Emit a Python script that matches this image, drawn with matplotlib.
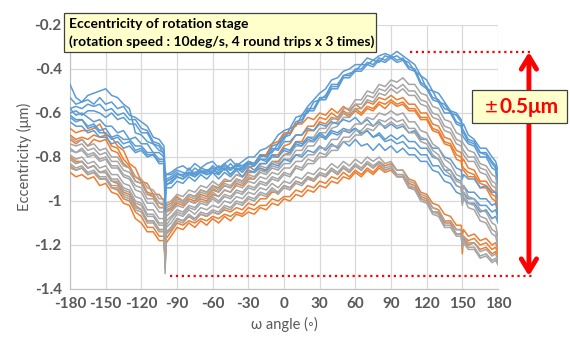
import matplotlib
matplotlib.use("Agg")
import matplotlib.pyplot as plt
from matplotlib.patches import Rectangle

plt.rcParams['font.family'] = ['Lato', 'DejaVu Sans']
plt.rcParams['axes.unicode_minus'] = False

# angle positions of the sampled points (deg)
angles = [-180, -175, -170, -165, -160, -155, -150, -145, -140, -135, -130, -125, -120, -115, -110, -105,
          -101, -100, -99,
          -95, -90, -85, -80, -75, -70, -65, -60, -55, -50, -45, -40, -35, -30, -25, -20, -15, -10, -5,
          0, 5, 10, 15, 20, 25, 30, 35, 40, 45, 50, 55, 60, 65, 70, 75, 80, 85, 90,
          95, 100, 105, 110, 115, 120, 125, 130, 135, 140, 145,
          149, 150, 151,
          155, 160, 165, 170, 175, 178, 180]

# eccentricity (um), one list per pass
blue_upper = [
    [-0.47, -0.53, -0.55, -0.52, -0.51, -0.50, -0.49, -0.52, -0.53, -0.56, -0.58, -0.69, -0.70, -0.73, -0.74, -0.77,
     -0.78, -0.92, -0.88,
     -0.87, -0.85, -0.84, -0.86, -0.83, -0.85, -0.83, -0.82, -0.85, -0.83, -0.81, -0.84, -0.82, -0.80, -0.80, -0.77, -0.76, -0.74, -0.70,
     -0.68, -0.67, -0.62, -0.61, -0.57, -0.54, -0.51, -0.49, -0.45, -0.44, -0.41, -0.40, -0.38, -0.38, -0.35, -0.36, -0.34, -0.33, -0.34,
     -0.32, -0.34, -0.36, -0.38, -0.43, -0.45, -0.50, -0.51, -0.55, -0.59, -0.60,
     -0.63, -0.66, -0.65,
     -0.70, -0.72, -0.76, -0.76, -0.80, -0.82, -0.86],
    [-0.53, -0.56, -0.55, -0.54, -0.56, -0.53, -0.56, -0.55, -0.58, -0.57, -0.61, -0.62, -0.64, -0.66, -0.71, -0.72,
     -0.75, -0.86, -0.88,
     -0.88, -0.86, -0.87, -0.88, -0.85, -0.87, -0.86, -0.87, -0.84, -0.86, -0.83, -0.86, -0.85, -0.82, -0.83, -0.80, -0.79, -0.78, -0.74,
     -0.72, -0.67, -0.66, -0.61, -0.60, -0.55, -0.54, -0.52, -0.47, -0.47, -0.43, -0.42, -0.41, -0.38, -0.38, -0.36, -0.37, -0.34, -0.35,
     -0.34, -0.36, -0.37, -0.41, -0.43, -0.49, -0.50, -0.55, -0.56, -0.60, -0.61,
     -0.64, -0.67, -0.68,
     -0.72, -0.73, -0.78, -0.78, -0.82, -0.84, -0.89],
    [-0.58, -0.57, -0.58, -0.56, -0.57, -0.56, -0.59, -0.58, -0.61, -0.60, -0.63, -0.63, -0.67, -0.68, -0.73, -0.74,
     -0.77, -0.90, -0.91,
     -0.90, -0.88, -0.88, -0.87, -0.88, -0.87, -0.87, -0.85, -0.88, -0.85, -0.86, -0.84, -0.85, -0.83, -0.83, -0.79, -0.79, -0.75, -0.74,
     -0.70, -0.69, -0.64, -0.63, -0.58, -0.58, -0.53, -0.53, -0.48, -0.48, -0.43, -0.43, -0.40, -0.40, -0.37, -0.38, -0.35, -0.36, -0.34,
     -0.36, -0.35, -0.39, -0.40, -0.46, -0.48, -0.53, -0.54, -0.58, -0.59, -0.64,
     -0.65, -0.69, -0.69,
     -0.73, -0.74, -0.78, -0.79, -0.83, -0.85, -0.92],
    [-0.60, -0.59, -0.61, -0.59, -0.59, -0.60, -0.62, -0.60, -0.63, -0.62, -0.65, -0.65, -0.69, -0.69, -0.74, -0.75,
     -0.79, -0.97, -0.93,
     -0.91, -0.89, -0.90, -0.87, -0.89, -0.86, -0.88, -0.86, -0.87, -0.85, -0.88, -0.85, -0.86, -0.83, -0.84, -0.81, -0.81, -0.77, -0.76,
     -0.71, -0.70, -0.65, -0.64, -0.59, -0.59, -0.54, -0.54, -0.49, -0.49, -0.44, -0.44, -0.41, -0.41, -0.38, -0.39, -0.36, -0.37, -0.35,
     -0.37, -0.36, -0.40, -0.41, -0.47, -0.49, -0.54, -0.55, -0.60, -0.60, -0.65,
     -0.66, -0.70, -0.71,
     -0.74, -0.75, -0.80, -0.80, -0.85, -0.86, -0.95],
]
blue_lower = [
    [-0.58, -0.61, -0.60, -0.62, -0.64, -0.63, -0.66, -0.66, -0.69, -0.68, -0.72, -0.71, -0.74, -0.74, -0.78, -0.78,
     -0.80, -0.99, -0.91,
     -0.90, -0.88, -0.88, -0.87, -0.87, -0.86, -0.87, -0.84, -0.86, -0.84, -0.85, -0.84, -0.84, -0.82, -0.83, -0.79, -0.80, -0.76, -0.77,
     -0.73, -0.73, -0.70, -0.70, -0.67, -0.68, -0.65, -0.66, -0.64, -0.65, -0.63, -0.64, -0.62, -0.65, -0.63, -0.66, -0.64, -0.67, -0.65,
     -0.67, -0.66, -0.69, -0.68, -0.72, -0.72, -0.76, -0.76, -0.80, -0.81, -0.85,
     -0.86, -0.90, -0.88,
     -0.90, -0.90, -0.94, -0.93, -0.96, -0.96, -0.99],
    [-0.62, -0.64, -0.63, -0.66, -0.65, -0.68, -0.67, -0.71, -0.70, -0.72, -0.72, -0.75, -0.75, -0.78, -0.78, -0.81,
     -0.81, -0.94, -0.92,
     -0.92, -0.89, -0.90, -0.88, -0.89, -0.87, -0.88, -0.87, -0.88, -0.85, -0.88, -0.85, -0.87, -0.84, -0.86, -0.83, -0.83, -0.80, -0.80,
     -0.77, -0.78, -0.74, -0.75, -0.72, -0.73, -0.70, -0.72, -0.69, -0.70, -0.68, -0.69, -0.67, -0.70, -0.68, -0.71, -0.69, -0.72, -0.70,
     -0.72, -0.70, -0.73, -0.73, -0.76, -0.76, -0.80, -0.81, -0.86, -0.86, -0.90,
     -0.91, -0.95, -0.93,
     -0.96, -0.96, -0.99, -0.99, -1.02, -1.01, -1.05],
    [-0.64, -0.66, -0.66, -0.69, -0.68, -0.71, -0.71, -0.74, -0.73, -0.76, -0.75, -0.78, -0.77, -0.80, -0.79, -0.83,
     -0.83, -1.05, -0.94,
     -0.94, -0.91, -0.92, -0.89, -0.91, -0.88, -0.90, -0.87, -0.90, -0.87, -0.89, -0.86, -0.89, -0.86, -0.87, -0.85, -0.86, -0.83, -0.84,
     -0.81, -0.82, -0.79, -0.80, -0.77, -0.78, -0.75, -0.77, -0.74, -0.76, -0.73, -0.75, -0.72, -0.75, -0.74, -0.77, -0.74, -0.77, -0.75,
     -0.78, -0.76, -0.79, -0.79, -0.82, -0.82, -0.86, -0.87, -0.91, -0.92, -0.96,
     -0.97, -1.01, -0.99,
     -1.01, -1.01, -1.05, -1.04, -1.08, -1.07, -1.10],
    [-0.61, -0.63, -0.63, -0.67, -0.66, -0.69, -0.69, -0.72, -0.71, -0.74, -0.73, -0.77, -0.76, -0.79, -0.79, -0.82,
     -0.82, -0.96, -0.90,
     -0.89, -0.87, -0.89, -0.85, -0.88, -0.85, -0.86, -0.85, -0.86, -0.83, -0.86, -0.83, -0.84, -0.83, -0.84, -0.81, -0.82, -0.79, -0.80,
     -0.76, -0.77, -0.73, -0.74, -0.71, -0.72, -0.69, -0.71, -0.68, -0.69, -0.67, -0.68, -0.67, -0.69, -0.68, -0.71, -0.70, -0.73, -0.72,
     -0.74, -0.73, -0.76, -0.76, -0.79, -0.79, -0.84, -0.84, -0.88, -0.89, -0.93,
     -0.94, -0.98, -0.96,
     -0.99, -0.99, -1.02, -1.02, -1.05, -1.04, -1.08],
]
orange_upper = [
    [-0.67, -0.69, -0.68, -0.68, -0.67, -0.65, -0.70, -0.71, -0.75, -0.77, -0.83, -0.85, -0.91, -0.92, -0.97, -0.97,
     -1.00, -1.26, -1.02,
     -1.01, -0.98, -1.00, -0.97, -0.98, -0.95, -0.96, -0.93, -0.94, -0.91, -0.91, -0.88, -0.89, -0.85, -0.84, -0.79, -0.79, -0.74, -0.73,
     -0.69, -0.69, -0.65, -0.65, -0.62, -0.63, -0.60, -0.61, -0.58, -0.60, -0.57, -0.59, -0.56, -0.58, -0.55, -0.56, -0.53, -0.54, -0.52,
     -0.54, -0.53, -0.56, -0.56, -0.60, -0.60, -0.65, -0.66, -0.71, -0.72, -0.77,
     -0.78, -0.82, -0.81,
     -0.85, -0.86, -0.91, -0.91, -0.95, -0.96, -1.02],
    [-0.70, -0.72, -0.71, -0.72, -0.70, -0.71, -0.70, -0.75, -0.76, -0.81, -0.84, -0.89, -0.91, -0.96, -0.97, -1.01,
     -1.02, -1.30, -1.04,
     -1.03, -1.00, -1.01, -0.99, -1.00, -0.97, -0.98, -0.95, -0.96, -0.93, -0.94, -0.90, -0.91, -0.87, -0.87, -0.83, -0.83, -0.79, -0.79,
     -0.75, -0.74, -0.70, -0.70, -0.66, -0.66, -0.62, -0.63, -0.60, -0.62, -0.59, -0.61, -0.58, -0.60, -0.57, -0.58, -0.55, -0.56, -0.54,
     -0.56, -0.55, -0.58, -0.58, -0.62, -0.62, -0.67, -0.68, -0.73, -0.74, -0.79,
     -0.80, -0.84, -0.85,
     -0.87, -0.88, -0.92, -0.93, -0.97, -0.98, -1.05],
    [-0.72, -0.74, -0.72, -0.75, -0.72, -0.73, -0.72, -0.77, -0.78, -0.83, -0.85, -0.91, -0.92, -0.97, -0.98, -1.03,
     -1.03, -1.21, -1.05,
     -1.04, -1.01, -1.02, -1.00, -1.01, -0.99, -1.00, -0.97, -0.98, -0.95, -0.96, -0.92, -0.93, -0.90, -0.90, -0.86, -0.86, -0.82, -0.82,
     -0.79, -0.78, -0.73, -0.73, -0.68, -0.68, -0.64, -0.65, -0.62, -0.63, -0.60, -0.62, -0.59, -0.61, -0.58, -0.59, -0.56, -0.58, -0.55,
     -0.57, -0.56, -0.59, -0.59, -0.63, -0.63, -0.68, -0.69, -0.74, -0.75, -0.81,
     -0.82, -0.86, -0.86,
     -0.89, -0.89, -0.94, -0.94, -0.99, -1.00, -1.08],
]
orange_lower = [
    [-0.80, -0.82, -0.82, -0.85, -0.84, -0.87, -0.87, -0.91, -0.92, -0.96, -0.97, -1.02, -1.04, -1.09, -1.09, -1.13,
     -1.13, -1.31, -1.15,
     -1.12, -1.08, -1.09, -1.07, -1.08, -1.06, -1.07, -1.05, -1.06, -1.04, -1.05, -1.03, -1.04, -1.01, -1.02, -0.99, -0.99, -0.96, -0.96,
     -0.93, -0.94, -0.91, -0.92, -0.89, -0.91, -0.88, -0.89, -0.86, -0.88, -0.85, -0.87, -0.84, -0.86, -0.83, -0.85, -0.82, -0.84, -0.83,
     -0.86, -0.86, -0.90, -0.91, -0.96, -0.97, -1.01, -1.02, -1.06, -1.07, -1.11,
     -1.11, -1.16, -1.13,
     -1.16, -1.15, -1.18, -1.17, -1.20, -1.19, -1.22],
    [-0.84, -0.86, -0.85, -0.88, -0.87, -0.90, -0.90, -0.94, -0.95, -0.99, -1.00, -1.05, -1.07, -1.12, -1.12, -1.16,
     -1.16, -1.28, -1.17,
     -1.14, -1.10, -1.11, -1.09, -1.10, -1.08, -1.09, -1.07, -1.08, -1.06, -1.07, -1.05, -1.06, -1.03, -1.04, -1.02, -1.02, -0.99, -1.00,
     -0.98, -0.98, -0.95, -0.96, -0.93, -0.94, -0.91, -0.92, -0.89, -0.90, -0.87, -0.89, -0.86, -0.88, -0.85, -0.87, -0.84, -0.86, -0.85,
     -0.88, -0.88, -0.92, -0.93, -0.98, -0.99, -1.03, -1.04, -1.09, -1.09, -1.13,
     -1.13, -1.24, -1.16,
     -1.18, -1.17, -1.20, -1.19, -1.22, -1.21, -1.24],
    [-0.87, -0.89, -0.88, -0.90, -0.89, -0.93, -0.92, -0.96, -0.97, -1.01, -1.02, -1.08, -1.10, -1.14, -1.14, -1.18,
     -1.18, -1.25, -1.19,
     -1.16, -1.12, -1.13, -1.10, -1.12, -1.09, -1.11, -1.08, -1.10, -1.07, -1.09, -1.06, -1.07, -1.05, -1.06, -1.03, -1.04, -1.01, -1.02,
     -0.99, -1.00, -0.97, -0.98, -0.95, -0.96, -0.93, -0.94, -0.91, -0.92, -0.89, -0.90, -0.87, -0.89, -0.86, -0.88, -0.85, -0.87, -0.86,
     -0.89, -0.89, -0.94, -0.94, -0.99, -1.00, -1.05, -1.05, -1.10, -1.10, -1.15,
     -1.15, -1.19, -1.17,
     -1.20, -1.19, -1.22, -1.21, -1.24, -1.23, -1.26],
]
gray_upper = [
    [-0.71, -0.73, -0.72, -0.75, -0.74, -0.77, -0.76, -0.80, -0.80, -0.84, -0.85, -0.89, -0.90, -0.94, -0.95, -0.99,
     -0.99, -1.18, -1.01,
     -1.00, -0.97, -0.98, -0.95, -0.96, -0.93, -0.94, -0.91, -0.93, -0.90, -0.91, -0.88, -0.89, -0.86, -0.87, -0.84, -0.85, -0.82, -0.83,
     -0.79, -0.79, -0.75, -0.75, -0.71, -0.71, -0.67, -0.67, -0.63, -0.62, -0.58, -0.58, -0.54, -0.54, -0.50, -0.51, -0.47, -0.48, -0.45,
     -0.46, -0.44, -0.47, -0.47, -0.51, -0.52, -0.57, -0.58, -0.63, -0.64, -0.69,
     -0.70, -0.73, -0.74,
     -0.77, -0.78, -0.83, -0.84, -0.88, -0.89, -0.95],
    [-0.74, -0.75, -0.74, -0.77, -0.76, -0.79, -0.78, -0.82, -0.82, -0.86, -0.87, -0.91, -0.92, -0.97, -0.97, -1.01,
     -1.01, -1.22, -1.03,
     -1.02, -0.99, -1.00, -0.97, -0.98, -0.95, -0.96, -0.93, -0.95, -0.92, -0.93, -0.90, -0.91, -0.88, -0.89, -0.86, -0.87, -0.84, -0.85,
     -0.81, -0.81, -0.77, -0.77, -0.73, -0.73, -0.69, -0.69, -0.65, -0.64, -0.60, -0.60, -0.56, -0.56, -0.52, -0.53, -0.49, -0.50, -0.47,
     -0.49, -0.47, -0.50, -0.50, -0.54, -0.55, -0.60, -0.61, -0.66, -0.67, -0.72,
     -0.73, -0.76, -0.77,
     -0.80, -0.80, -0.85, -0.86, -0.91, -0.92, -0.98],
    [-0.76, -0.78, -0.76, -0.79, -0.78, -0.81, -0.80, -0.84, -0.84, -0.88, -0.89, -0.93, -0.94, -0.99, -0.99, -1.03,
     -1.03, -1.26, -1.05,
     -1.03, -1.00, -1.01, -0.98, -0.99, -0.96, -0.97, -0.94, -0.96, -0.93, -0.94, -0.91, -0.92, -0.89, -0.90, -0.87, -0.88, -0.85, -0.86,
     -0.83, -0.83, -0.79, -0.79, -0.75, -0.75, -0.71, -0.71, -0.67, -0.66, -0.62, -0.62, -0.58, -0.58, -0.54, -0.55, -0.51, -0.52, -0.49,
     -0.51, -0.49, -0.52, -0.52, -0.56, -0.57, -0.62, -0.63, -0.68, -0.69, -0.74,
     -0.75, -0.78, -0.79,
     -0.82, -0.82, -0.87, -0.88, -0.93, -0.94, -1.01],
]
gray_middle = [
    [-0.77, -0.78, -0.77, -0.80, -0.79, -0.82, -0.81, -0.85, -0.85, -0.89, -0.90, -0.95, -0.96, -1.01, -1.01, -1.05,
     -1.05, -1.33, -1.07,
     -1.05, -1.02, -1.03, -1.00, -1.01, -0.98, -0.99, -0.96, -0.98, -0.95, -0.96, -0.93, -0.94, -0.91, -0.92, -0.89, -0.90, -0.87, -0.88,
     -0.85, -0.85, -0.82, -0.82, -0.79, -0.79, -0.76, -0.76, -0.72, -0.72, -0.68, -0.68, -0.65, -0.65, -0.62, -0.63, -0.60, -0.61, -0.59,
     -0.61, -0.60, -0.64, -0.64, -0.68, -0.69, -0.74, -0.76, -0.81, -0.83, -0.88,
     -0.89, -0.96, -0.93,
     -0.98, -0.99, -1.04, -1.05, -1.10, -1.11, -1.16],
    [-0.79, -0.81, -0.80, -0.83, -0.82, -0.85, -0.84, -0.88, -0.88, -0.92, -0.93, -0.98, -0.99, -1.04, -1.04, -1.08,
     -1.08, -1.30, -1.09,
     -1.07, -1.04, -1.05, -1.02, -1.03, -1.00, -1.01, -0.98, -1.00, -0.97, -0.98, -0.95, -0.96, -0.93, -0.94, -0.91, -0.92, -0.89, -0.90,
     -0.87, -0.88, -0.84, -0.85, -0.81, -0.82, -0.78, -0.79, -0.75, -0.75, -0.71, -0.71, -0.68, -0.68, -0.65, -0.66, -0.63, -0.64, -0.62,
     -0.64, -0.63, -0.67, -0.67, -0.71, -0.72, -0.77, -0.79, -0.84, -0.86, -0.91,
     -0.92, -1.00, -0.96,
     -1.01, -1.02, -1.07, -1.08, -1.13, -1.14, -1.19],
    [-0.81, -0.83, -0.82, -0.85, -0.84, -0.87, -0.86, -0.90, -0.90, -0.94, -0.95, -1.00, -1.01, -1.06, -1.06, -1.10,
     -1.10, -1.27, -1.11,
     -1.08, -1.05, -1.06, -1.03, -1.04, -1.01, -1.02, -0.99, -1.01, -0.98, -0.99, -0.96, -0.97, -0.94, -0.95, -0.92, -0.93, -0.90, -0.91,
     -0.88, -0.89, -0.85, -0.86, -0.83, -0.83, -0.80, -0.80, -0.77, -0.77, -0.73, -0.73, -0.70, -0.70, -0.67, -0.68, -0.65, -0.66, -0.64,
     -0.66, -0.65, -0.69, -0.69, -0.73, -0.74, -0.79, -0.81, -0.86, -0.88, -0.93,
     -0.94, -1.02, -0.98,
     -1.03, -1.04, -1.09, -1.10, -1.15, -1.16, -1.21],
]
gray_lower = [
    [-0.81, -0.83, -0.82, -0.85, -0.84, -0.87, -0.87, -0.91, -0.91, -0.95, -0.96, -1.01, -1.02, -1.07, -1.07, -1.11,
     -1.11, -1.24, -1.12,
     -1.10, -1.06, -1.07, -1.04, -1.06, -1.03, -1.04, -1.02, -1.03, -1.00, -1.01, -0.98, -0.99, -0.96, -0.97, -0.94, -0.95, -0.92, -0.94,
     -0.91, -0.92, -0.89, -0.90, -0.87, -0.88, -0.85, -0.86, -0.83, -0.85, -0.82, -0.84, -0.81, -0.83, -0.80, -0.82, -0.80, -0.83, -0.82,
     -0.86, -0.86, -0.91, -0.92, -0.97, -0.98, -1.03, -1.04, -1.09, -1.09, -1.13,
     -1.13, -1.18, -1.16,
     -1.19, -1.19, -1.23, -1.22, -1.25, -1.24, -1.27],
    [-0.83, -0.85, -0.84, -0.87, -0.86, -0.89, -0.89, -0.93, -0.93, -0.97, -0.98, -1.03, -1.04, -1.09, -1.09, -1.13,
     -1.13, -1.28, -1.14,
     -1.12, -1.08, -1.09, -1.06, -1.08, -1.05, -1.06, -1.04, -1.05, -1.02, -1.03, -1.00, -1.01, -0.98, -0.99, -0.96, -0.97, -0.94, -0.96,
     -0.93, -0.94, -0.91, -0.92, -0.89, -0.90, -0.87, -0.88, -0.85, -0.87, -0.84, -0.86, -0.83, -0.85, -0.82, -0.84, -0.82, -0.85, -0.84,
     -0.88, -0.88, -0.93, -0.94, -0.99, -1.00, -1.05, -1.06, -1.11, -1.11, -1.15,
     -1.15, -1.20, -1.18,
     -1.21, -1.21, -1.25, -1.24, -1.27, -1.26, -1.28],
    [-0.85, -0.86, -0.85, -0.88, -0.87, -0.90, -0.90, -0.94, -0.94, -0.98, -0.99, -1.04, -1.05, -1.10, -1.10, -1.14,
     -1.14, -1.22, -1.15,
     -1.13, -1.09, -1.10, -1.07, -1.09, -1.06, -1.07, -1.05, -1.06, -1.03, -1.04, -1.01, -1.02, -0.99, -1.00, -0.97, -0.98, -0.95, -0.97,
     -0.94, -0.95, -0.92, -0.93, -0.90, -0.91, -0.88, -0.89, -0.86, -0.88, -0.85, -0.87, -0.84, -0.86, -0.83, -0.85, -0.83, -0.86, -0.85,
     -0.89, -0.89, -0.94, -0.95, -1.00, -1.01, -1.06, -1.07, -1.12, -1.12, -1.16,
     -1.16, -1.21, -1.19,
     -1.22, -1.22, -1.26, -1.25, -1.28, -1.27, -1.29],
]

BLUE = '#5B9BD5'
ORANGE = '#ED7D31'
GRAY = '#A5A5A5'

fig = plt.figure(figsize=(5.7, 3.41), dpi=100)
ax = fig.add_axes([70 / 570, 1 - 289 / 341, 428 / 570, 264 / 341])

# interleave the three colours so none sits completely on top
groups = [(blue_upper, BLUE), (orange_upper, ORANGE), (gray_upper, GRAY),
          (blue_lower, BLUE), (orange_lower, ORANGE), (gray_middle, GRAY),
          (gray_lower, GRAY)]
for runs, color in groups:
    for vals in runs:
        ax.plot(angles, vals, color=color, lw=1.1, zorder=3)

ax.set_xlim(-180, 180)
ax.set_ylim(-1.4, -0.2)
ax.set_xticks(range(-180, 181, 30))
ax.set_yticks([-1.4, -1.2, -1.0, -0.8, -0.6, -0.4, -0.2])
ax.set_yticklabels(['-1.4', '-1.2', '-1', '-0.8', '-0.6', '-0.4', '-0.2'])
ax.grid(True, color='#D9D9D9', lw=0.9)
ax.set_axisbelow(True)
for side in ['top', 'right']:
    ax.spines[side].set_visible(False)
for side in ['left', 'bottom']:
    ax.spines[side].set_color('#BFBFBF')
ax.tick_params(length=0, labelsize=11, labelcolor='#595959', pad=6)
for lab in ax.get_xticklabels() + ax.get_yticklabels():
    lab.set_fontweight('bold')

ax.set_xlabel('ω angle (◦)', fontsize=10.5, color='#595959', labelpad=4)
ax.set_ylabel('Eccentricity (μm)', fontsize=10.5, color='#595959', labelpad=2)

# red range markers
ax.plot([106, 209], [-0.323, -0.323], color='red', ls=':', lw=1.6, clip_on=False, zorder=4)
ax.plot([-96, 209], [-1.341, -1.341], color='red', ls=':', lw=1.6, clip_on=False, zorder=4)
ax.annotate('', xy=(206, -0.323), xytext=(206, -1.341),
            arrowprops=dict(arrowstyle='<->,head_length=0.9,head_width=0.55',
                            color='red', lw=3.5, shrinkA=0, shrinkB=0),
            annotation_clip=False, zorder=5)

# text boxes
fig.patches.append(Rectangle((64 / 570, 1 - 52 / 341), 312 / 570, 39 / 341,
                             transform=fig.transFigure, facecolor='#FFFFCC',
                             edgecolor='#404040', lw=0.9, zorder=6))
fig.text(69 / 570, 1 - 24 / 341, 'Eccentricity of rotation stage', fontsize=10,
         fontweight='bold', va='center', ha='left', zorder=7)
fig.text(69 / 570, 1 - 42 / 341, '(rotation speed : 10deg/s, 4 round trips x 3 times)',
         fontsize=10, fontweight='bold', va='center', ha='left', zorder=7)

fig.patches.append(Rectangle((472 / 570, 1 - 123 / 341), 95 / 570, 33 / 341,
                             transform=fig.transFigure, facecolor='#FFFFCC',
                             edgecolor='#404040', lw=0.9, zorder=6))
fig.text(491 / 570, 1 - 107 / 341, '±', fontsize=16, color='red',
         va='center', ha='center', zorder=7)
fig.text(500 / 570, 1 - 107 / 341, '0.5μm', fontsize=15, fontweight='bold',
         color='red', va='center', ha='left', zorder=7)

fig.savefig('out.png', dpi=100)
